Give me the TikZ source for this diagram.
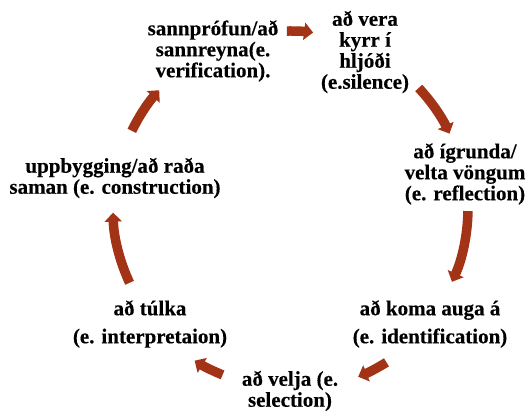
\documentclass[tikz,border=0pt]{standalone}
\usepackage{fontspec}
\setmainfont{Liberation Serif}[BoldFeatures={FakeBold=0.3}]
\usetikzlibrary{arrows.meta}
\definecolor{arr}{RGB}{163,51,22}
\begin{document}
\begin{tikzpicture}[x=1pt,y=-1pt,
  lab/.style={align=center, font=\fontsize{21}{21}\selectfont\bfseries, inner sep=0pt},
  cyc/.style={draw=arr, line width=9.5pt, -{Triangle[width=17pt,length=9pt]}}]
\path[use as bounding box] (0,0) rectangle (528,411);
\node[lab] (ver) at (213,51) {sannprófun/að\\sannreyna(e.\\verification).};
\node[lab] (sil) at (365,52) {að vera\\kyrr í\\hljóði\\(e.silence)};
\node[lab] (refl) at (465,174) {að ígrunda/\\velta vöngum\\(e. reflection)};
\node[lab] (ident) at (430,324) {að koma auga á\\[7pt](e. identification)};
\node[lab] (sel) at (290,391) {að velja (e.\\selection)};
\node[lab] (interp) at (150,324) {að túlka\\[7pt](e. interpretaion)};
\node[lab] (constr) at (115,178) {uppbygging/að raða\\saman (e. construction)};
\coordinate (c) at (290,208);
\draw[cyc] ([shift={(269:177)}]c) arc[start angle=269,end angle=277.5,radius=177];
\draw[cyc] ([shift={(-43:176)}]c) arc[start angle=-43,end angle=-25,radius=176];
\draw[cyc] ([shift={(1:178)}]c) arc[start angle=1,end angle=24.5,radius=178];
\draw[cyc] ([shift={(58:182)}]c) arc[start angle=58,end angle=68,radius=182];
\draw[cyc] ([shift={(112:180)}]c) arc[start angle=112,end angle=122,radius=180];
\draw[cyc] ([shift={(155:177)}]c) arc[start angle=155,end angle=178.5,radius=177];
\draw[cyc] ([shift={(206:176)}]c) arc[start angle=206,end angle=222,radius=176];
\end{tikzpicture}
\end{document}
